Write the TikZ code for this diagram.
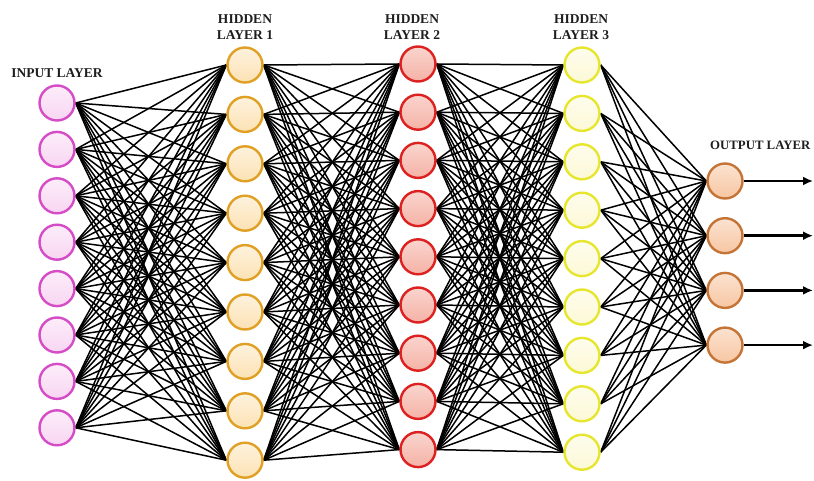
\documentclass[tikz,border=0pt]{standalone}
\usepackage{fontspec}
\setmainfont{Liberation Serif}
\usetikzlibrary{arrows.meta,backgrounds}

\definecolor{inFill}{HTML}{F8D6F2}
\definecolor{inLine}{HTML}{D64CC6}
\definecolor{hAFill}{HTML}{FCE2B4}
\definecolor{hALine}{HTML}{E0A023}
\definecolor{hBFill}{HTML}{F5B2A6}
\definecolor{hBLine}{HTML}{DD2020}
\definecolor{hCFill}{HTML}{FCF9D6}
\definecolor{hCLine}{HTML}{E6E62E}
\definecolor{outFill}{HTML}{F7C6A2}
\definecolor{outLine}{HTML}{C47436}
\definecolor{labelInk}{HTML}{1E1E1E}

\tikzset{
  neuron/.style={circle, minimum size=35pt, inner sep=0pt, line width=2.4pt},
  inneuron/.style={neuron, draw=inLine, top color=white!55!inFill, bottom color=inFill},
  haneuron/.style={neuron, draw=hALine, top color=white!55!hAFill, bottom color=hAFill},
  hbneuron/.style={neuron, draw=hBLine, top color=white!45!hBFill, bottom color=hBFill},
  hcneuron/.style={neuron, draw=hCLine, top color=white!55!hCFill, bottom color=hCFill},
  outneuron/.style={neuron, draw=outLine, top color=white!50!outFill, bottom color=outFill},
  link/.style={draw=black, line width=1.5pt},
  outarrow/.style={draw=black, line width=2.6pt, -{Latex[length=10pt,width=9pt]}},
  layerlabel/.style={text=labelInk, font=\fontsize{13.5}{16}\selectfont\bfseries, inner sep=0pt, align=center}
}

\begin{document}
\begin{tikzpicture}[x=1pt, y=-1pt]
  \useasboundingbox (0,0) rectangle (814,481);

  % neurons of each layer
  \foreach \i in {1,...,8}
    \node[inneuron] (in\i) at (57,{103+(\i-1)*46.4}) {};
  \foreach \i in {1,...,9}
    \node[haneuron] (ha\i) at (245,{65+(\i-1)*49.4}) {};
  \foreach \i in {1,...,9}
    \node[hbneuron] (hb\i) at (418,{64+(\i-1)*48.2}) {};
  \foreach \i in {1,...,9}
    \node[hcneuron] (hc\i) at (582,{65+(\i-1)*48.4}) {};
  \foreach \i in {1,...,4}
    \node[outneuron] (out\i) at (725,{181+(\i-1)*54.7}) {};

  % fully connected links, behind the neurons
  \begin{scope}[on background layer]
    \foreach \a in {1,...,8}
      \foreach \b in {1,...,9}
        \draw[link] (in\a.east) -- (ha\b.west);
    \foreach \a in {1,...,9}
      \foreach \b in {1,...,9}
        \draw[link] (ha\a.east) -- (hb\b.west);
    \foreach \a in {1,...,9}
      \foreach \b in {1,...,9}
        \draw[link] (hb\a.east) -- (hc\b.west);
    \foreach \a in {1,...,9}
      \foreach \b in {1,...,4}
        \draw[link] (hc\a.east) -- (out\b.west);
  \end{scope}

  % output arrows
  \foreach \i in {1,...,4} {
    \coordinate (outend\i) at (813,{181+(\i-1)*54.7});
    \draw[outarrow] (out\i.east) -- (outend\i);
  }

  % layer titles
  \node[layerlabel] (tin) at (57,73) {INPUT LAYER};
  \node[layerlabel] (tha) at (245,27) {HIDDEN\\LAYER 1};
  \node[layerlabel] (thb) at (412,27) {HIDDEN\\LAYER 2};
  \node[layerlabel] (thc) at (581,27) {HIDDEN\\LAYER 3};
  \node[layerlabel, font=\fontsize{12.8}{15}\selectfont\bfseries, anchor=west] (tout) at (710,145) {OUTPUT LAYER};
\end{tikzpicture}
\end{document}
